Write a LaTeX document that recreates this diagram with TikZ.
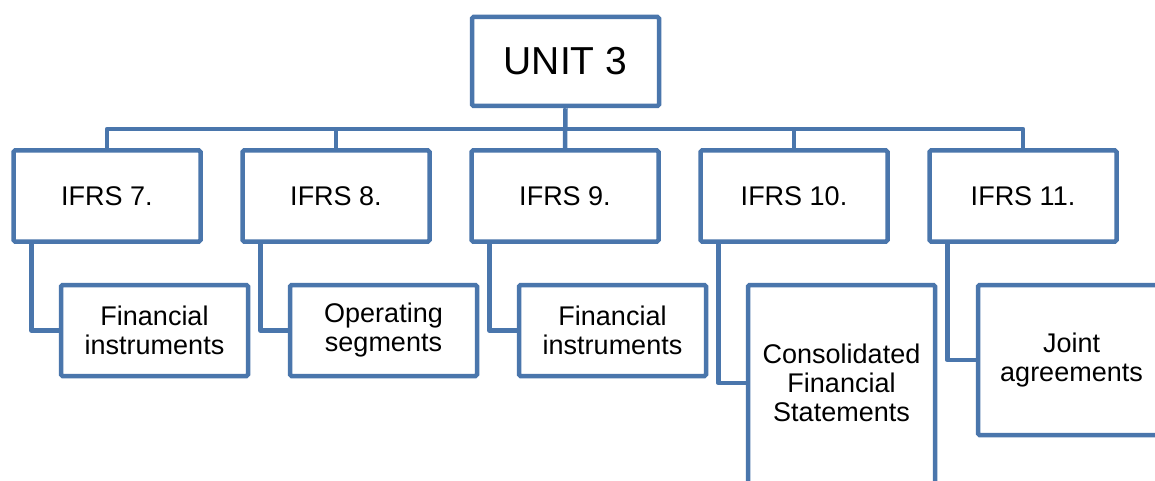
\documentclass[tikz,border=0pt]{standalone}
\usepackage{fontspec}
\setmainfont{Liberation Sans}
\definecolor{lineblue}{RGB}{74,118,172}
\tikzset{
  box/.style={draw=lineblue, line width=4.5pt, fill=white, rounded corners=1.5pt,
    minimum width=187pt, inner sep=0pt, align=center,
    font=\fontsize{27}{29}\selectfont},
  conn/.style={draw=lineblue, line width=4.5pt, line join=round}
}
\begin{document}
\begin{tikzpicture}[x=1pt,y=-1pt]
\clip (0,0) rectangle (1155,481);
\fill[white] (0,0) rectangle (1155,481);
% bus level
\coordinate (bus) at (0,129);
% top node
\node[box, minimum height=89pt, font=\fontsize{39}{42}\selectfont] (top) at (565.5,61.5) {UNIT 3};
% level 2
\node[box, minimum height=91pt] (b7)  at (107,196) {IFRS 7.};
\node[box, minimum height=91pt] (b8)  at (336,196) {IFRS 8.};
\node[box, minimum height=91pt] (b9)  at (565,196) {IFRS 9.};
\node[box, minimum height=91pt] (b10) at (794,196) {IFRS 10.};
\node[box, minimum height=91pt] (b11) at (1023,196) {IFRS 11.};
% connectors top to level 2
\draw[conn] (top.south) -- (b9.north);
\draw[conn] (b7.north) -- (b7.north |- bus) -- (b11.north |- bus) -- (b11.north);
\draw[conn] (b8.north) -- (b8.north |- bus);
\draw[conn] (b10.north) -- (b10.north |- bus);
% level 3
\node[box, minimum height=91pt] (c7)  at (154.5,330.5) {Financial\\instruments};
\node[box, minimum height=91pt] (c8)  at (383.5,330.5) {Operating\\segments};
\node[box, minimum height=91pt] (c9)  at (612.5,330.5) {Financial\\instruments};
\node[box, minimum height=204pt] (c10) at (841.5,387) {};
\node[font=\fontsize{27}{29}\selectfont, align=center, inner sep=0pt] (c10t) at (841.5,383) {Consolidated\\Financial\\Statements};
\node[box, minimum height=150pt] (c11) at (1071.5,360) {Joint\\agreements};
% elbows
\draw[conn] ([xshift=20pt]b7.south west) |- (c7.west);
\draw[conn] ([xshift=20pt]b8.south west) |- (c8.west);
\draw[conn] ([xshift=20pt]b9.south west) |- (c9.west);
\draw[conn] ([xshift=20pt]b10.south west) |- (c10.west |- c10t.center);
\draw[conn] ([xshift=20pt]b11.south west) |- (c11.west);
\end{tikzpicture}
\end{document}
